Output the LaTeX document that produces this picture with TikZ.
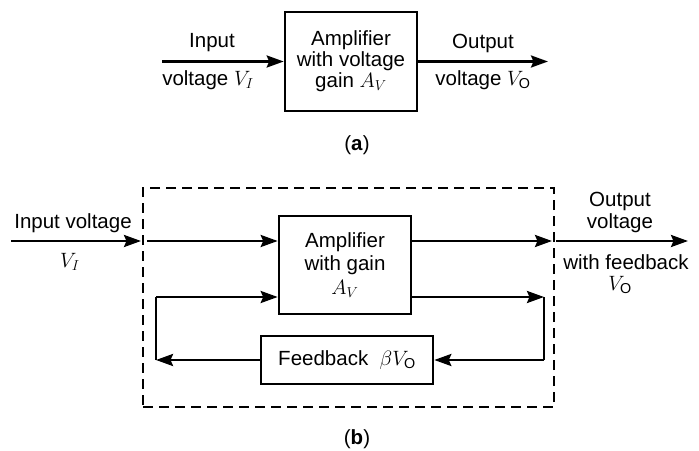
\documentclass[tikz,border=0pt]{standalone}
\usepackage{amsmath}
\usepackage{fontspec}
\setmainfont{Liberation Sans}
\usetikzlibrary{arrows.meta}
\begin{document}
\begin{tikzpicture}[x=1pt,y=-1pt,
  font=\fontsize{20.5}{21}\selectfont,
  line width=2.6pt,
  arr/.style={-{Stealth[length=17pt,width=12pt,inset=2.5pt]}},
  blk/.style={draw,line width=2.6pt,align=center,inner sep=0pt},
  lbl/.style={inner sep=0pt,align=center},
  dashbox/.style={draw,line width=2.6pt,dash pattern=on 10pt off 6pt,inner sep=0pt}]
\useasboundingbox (0,0) rectangle (699,450);
% ---------- (a)
\node[blk,minimum width=132pt,minimum height=99pt] (ampA) at (351,61.5)
  {Amplifier\\with voltage\\gain $A_V$};
\coordinate (inA) at (162,61.5);
\coordinate (outA) at (548,61.5);
\draw[arr] (inA) -- (ampA.west);
\draw[arr] (ampA.east) -- (outA);
\node[lbl] (tinA) at (212,43) {Input};
\node[lbl] (tvinA) at (208,80) {voltage $V_I$};
\node[lbl] (toutA) at (483,43) {Output};
\node[lbl] (tvoutA) at (483,80) {voltage $V_{\text{O}}$};
\node[lbl] (capA) at (357,145) {(\textbf{a})};
% ---------- (b)
\node[dashbox,minimum width=411pt,minimum height=219pt] (dbox) at (348.5,297.5) {};
\node[blk,minimum width=132pt,minimum height=98pt,
  font=\fontsize{20.5}{23.5}\selectfont] (ampB) at (345,265)
  {Amplifier\\with gain\\$A_V$};
\node[blk,minimum width=172pt,minimum height=48pt] (fb) at (347,360)
  {Feedback\ \ $\beta V_{\text{O}}$};
\coordinate (inB) at (11,241);
\coordinate (inBend) at (141,241);
\coordinate (inBstart) at (147,241);
\coordinate (outBend) at (552,241);
\coordinate (outBstart) at (556,241);
\coordinate (outB) at (688,241);
\coordinate (r1) at (544,297);
\coordinate (r2) at (544,360);
\coordinate (l1) at (156,360);
\coordinate (l2) at (156,297);
\draw[arr] (inB) -- (inBend);
\draw[arr] (inBstart) -- (inBstart -| ampB.west);
\draw[arr] (outBend -| ampB.east) -- (outBend);
\draw[arr] (outBstart) -- (outB);
\draw[arr] (r1 -| ampB.east) -- (r1);
\draw (r1) -- (r2);
\draw[arr] (r2) -- (fb.east);
\draw[arr] (fb.west) -- (l1);
\draw (l1) -- (l2);
\draw[arr] (l2) -- (l2 -| ampB.west);
\node[lbl] (tinB) at (73,223) {Input voltage};
\node[lbl] (tvinB) at (70,262) {$V_I$};
\node[lbl,font=\fontsize{20.5}{22}\selectfont] (toutB) at (620,212) {Output\\voltage};
\node[lbl] (twfB) at (626,262) {with feedback};
\node[lbl] (tvoB) at (620,285) {$V_{\text{O}}$};
\node[lbl] (capB) at (357,439) {(\textbf{b})};
\end{tikzpicture}
\end{document}
